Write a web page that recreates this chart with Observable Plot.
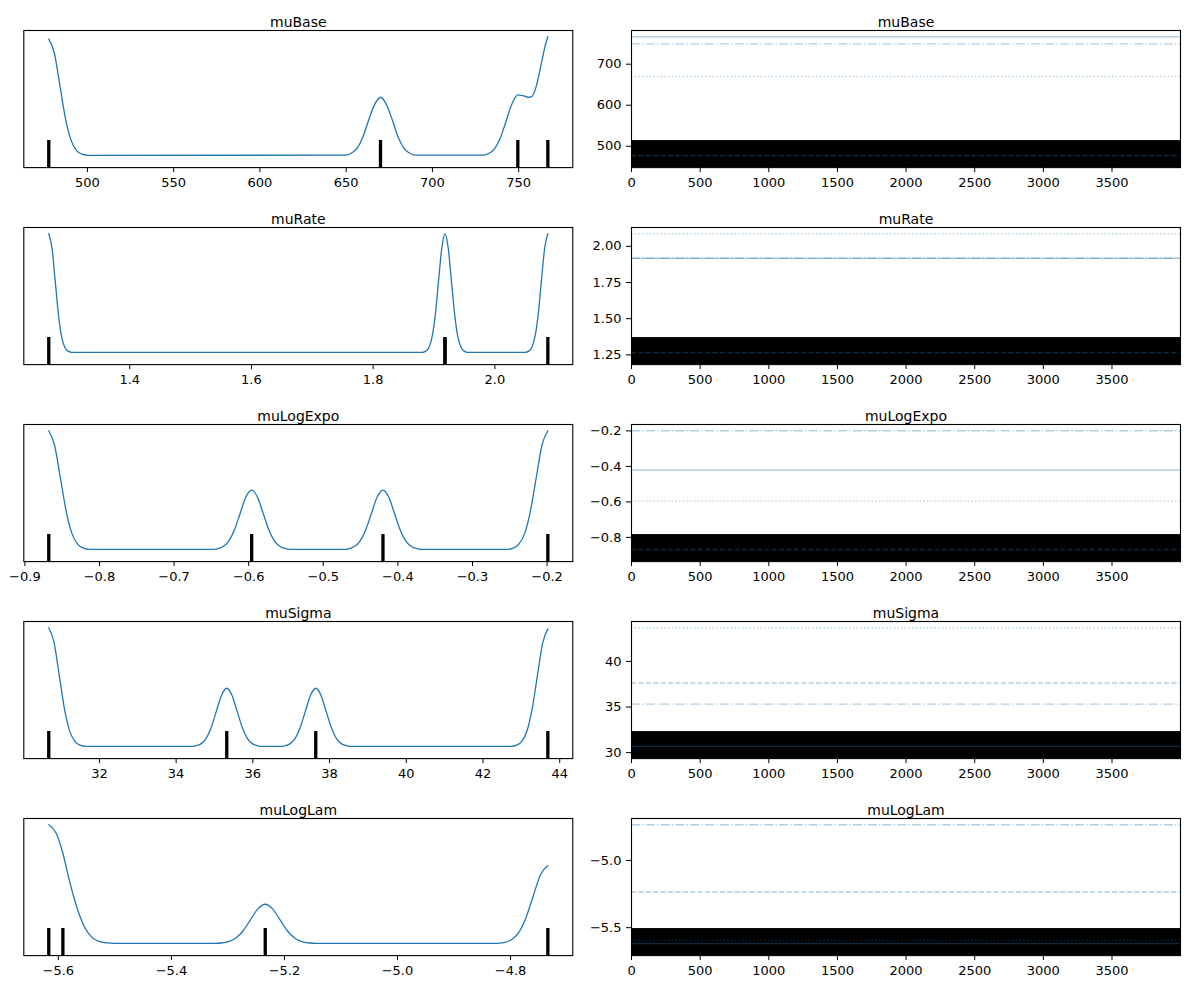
<!DOCTYPE html>
<html><head><meta charset="utf-8">
<script src="https://cdn.jsdelivr.net/npm/d3@7"></script>
<script src="https://cdn.jsdelivr.net/npm/@observablehq/plot@0.6"></script>
<style>
body{margin:0;background:#fff;}
#fig{position:relative;width:1189px;height:989px;background:#fff;font-family:"DejaVu Sans",sans-serif;}
#fig .cell{position:absolute;}
#fig svg{background:transparent;overflow:visible;}
</style></head><body><div id="fig"></div>
<script>
// ---- data ----
const varNames = ["muBase", "muRate", "muLogExpo", "muSigma", "muLogLam"];

// chain values (chain 0..3), each chain stuck at one value
const chains_muBase = [766.9, 477.6, 669.9, 749.5];
const chains_muRate = [1.918, 1.267, 2.087, 1.918];
const chains_muLogExpo = [-0.420, -0.868, -0.596, -0.199];
const chains_muSigma = [30.68, 37.64, 43.69, 35.32];
const chains_muLogLam = [-5.617, -5.234, -5.592, -4.734];

// draws
const drawRange = [0, 3999];
const drawTicks = [0, 500, 1000, 1500, 2000, 2500, 3000, 3500];

// KDE curves: [value, relative density]
const kde_muBase = [[477.6,0.98],[480.8,0.865],[484.0,0.594],[487.2,0.318],[490.4,0.133],[493.6,0.043],[496.8,0.011],[500.5,0.001],[650.0,0.002],
 [653.4,0.022],[656.6,0.066],[659.8,0.159],[663.0,0.297],[666.6,0.432],[669.9,0.49],[673.2,0.432],[676.8,0.297],[680.0,0.159],[683.2,0.066],[686.4,0.022],[689.8,0.002],
 [729.5,0.002],[732.9,0.018],[736.1,0.058],[739.3,0.145],[742.5,0.28],[745.7,0.42],[749.5,0.51],[752.5,0.503],[755.5,0.49],[757.5,0.495],[759.5,0.55],[761.5,0.66],[763.5,0.8],[765.3,0.92],[766.9,1.0]];
const kde_muRate = [[1.267,1.0],[1.2723,0.88],[1.2775,0.607],[1.2828,0.325],[1.288,0.135],[1.2933,0.044],[1.2985,0.011],[1.305,0.001],
 [1.881,0.001],[1.8865,0.011],[1.8918,0.044],[1.897,0.135],[1.9023,0.325],[1.9075,0.607],[1.9128,0.88],[1.918,1.0],[1.9233,0.88],[1.9285,0.607],[1.9338,0.325],[1.939,0.135],[1.9443,0.044],[1.9495,0.011],[1.955,0.001],
 [2.05,0.001],[2.0555,0.011],[2.0608,0.044],[2.066,0.135],[2.0713,0.325],[2.0765,0.607],[2.0818,0.88],[2.087,1.0]];
const kde_muLogExpo = [[-0.868,1.0],[-0.8603,0.88],[-0.8525,0.607],[-0.8448,0.325],[-0.837,0.135],[-0.8293,0.044],[-0.8215,0.011],[-0.814,0.001],
 [-0.65,0.001],[-0.6425,0.0055],[-0.6348,0.022],[-0.627,0.068],[-0.6193,0.162],[-0.6115,0.303],[-0.6038,0.441],[-0.596,0.5],[-0.5883,0.441],[-0.5805,0.303],[-0.5728,0.162],[-0.565,0.068],[-0.5573,0.022],[-0.5495,0.0055],[-0.542,0.001],
 [-0.474,0.001],[-0.4665,0.0055],[-0.4588,0.022],[-0.451,0.068],[-0.4433,0.162],[-0.4355,0.303],[-0.4278,0.441],[-0.420,0.5],[-0.4123,0.441],[-0.4045,0.303],[-0.3968,0.162],[-0.389,0.068],[-0.3813,0.022],[-0.3735,0.0055],[-0.366,0.001],
 [-0.253,0.001],[-0.2455,0.011],[-0.2378,0.044],[-0.23,0.135],[-0.2223,0.325],[-0.2145,0.607],[-0.2068,0.88],[-0.199,1.0]];
const kde_muSigma = [[30.68,1.0],[30.815,0.88],[30.95,0.607],[31.085,0.325],[31.22,0.135],[31.355,0.044],[31.49,0.011],[31.65,0.001],
 [34.4,0.001],[34.51,0.0054],[34.645,0.0215],[34.78,0.066],[34.915,0.159],[35.05,0.297],[35.185,0.432],[35.32,0.49],[35.455,0.432],[35.59,0.297],[35.725,0.159],[35.86,0.066],[35.995,0.0215],[36.13,0.0054],[36.24,0.001],
 [36.72,0.001],[36.83,0.0054],[36.965,0.0215],[37.1,0.066],[37.235,0.159],[37.37,0.297],[37.505,0.432],[37.64,0.49],[37.775,0.432],[37.91,0.297],[38.045,0.159],[38.18,0.066],[38.315,0.0215],[38.45,0.0054],[38.56,0.001],
 [42.72,0.001],[42.88,0.011],[43.015,0.044],[43.15,0.134],[43.285,0.322],[43.42,0.6],[43.555,0.87],[43.69,0.99]];
const kde_muLogLam = [[-5.617,1.0],[-5.604,0.93],[-5.592,0.76],[-5.58,0.52],[-5.567,0.3],[-5.554,0.14],[-5.541,0.053],[-5.528,0.017],[-5.515,0.005],[-5.5,0.001],
 [-5.325,0.001],[-5.312,0.0037],[-5.299,0.0145],[-5.286,0.045],[-5.273,0.107],[-5.26,0.2],[-5.247,0.291],[-5.234,0.33],[-5.221,0.291],[-5.208,0.2],[-5.195,0.107],[-5.182,0.045],[-5.169,0.0145],[-5.156,0.0037],[-5.143,0.001],
 [-4.825,0.001],[-4.812,0.007],[-4.799,0.029],[-4.786,0.089],[-4.773,0.213],[-4.76,0.398],[-4.747,0.579],[-4.734,0.656]];

// tick labels
const kdeTicks_muBase = [500, 550, 600, 650, 700, 750];
const kdeTicks_muRate = [1.4, 1.6, 1.8, 2.0];
const kdeTicks_muLogExpo = [-0.9, -0.8, -0.7, -0.6, -0.5, -0.4, -0.3, -0.2];
const kdeTicks_muSigma = [32, 34, 36, 38, 40, 42, 44];
const kdeTicks_muLogLam = [-5.6, -5.4, -5.2, -5.0, -4.8];
const traceTicks_muBase = [500, 600, 700];
const traceTicks_muRate = [1.25, 1.50, 1.75, 2.00];
const traceTicks_muLogExpo = [-0.8, -0.6, -0.4, -0.2];
const traceTicks_muSigma = [30, 35, 40];
const traceTicks_muLogLam = [-5.5, -5.0];

// ---- assembly ----
const panels = [
  {name: "muBase", chains: chains_muBase, kde: kde_muBase, kt: kdeTicks_muBase, kf: "d", tt: traceTicks_muBase, tf: "d"},
  {name: "muRate", chains: chains_muRate, kde: kde_muRate, kt: kdeTicks_muRate, kf: ".1f", tt: traceTicks_muRate, tf: ".2f"},
  {name: "muLogExpo", chains: chains_muLogExpo, kde: kde_muLogExpo, kt: kdeTicks_muLogExpo, kf: ".1f", tt: traceTicks_muLogExpo, tf: ".1f"},
  {name: "muSigma", chains: chains_muSigma, kde: kde_muSigma, kt: kdeTicks_muSigma, kf: "d", tt: traceTicks_muSigma, tf: "d"},
  {name: "muLogLam", chains: chains_muLogLam, kde: kde_muLogLam, kt: kdeTicks_muLogLam, kf: ".1f", tt: traceTicks_muLogLam, tf: ".1f"}
];

const C0 = "#1f77b4";
const chainDash = [null, "5.2,2.2", "1.4,2.3", "9,2.2,1.4,2.2"];
const frameW = 549, frameH = 137.1, rowPitch = 197.1, firstTop = 29.6;
const mTop = 25, mBottom = 32;
const leftML = 23.3, leftMR = 10;
const rightML = 45, rightMR = 9, rightFrameX = 630.7;
const markerHalf = 20.8;
const style = {fontFamily: '"DejaVu Sans", sans-serif', fontSize: "13px", color: "black", background: "transparent", overflow: "visible"};

// matplotlib-like limits: 5% margins, then markers at bottom -> limits widen again
function twoStep(lo, hi) {
  const r = hi - lo;
  const lo0 = lo - 0.05 * r;
  const r2 = hi - lo0;
  return {lo0, domain: [lo0 - 0.05 * r2, hi + 0.05 * r2]};
}

const fig = document.getElementById("fig");
function place(node, left, top) {
  const d = document.createElement("div");
  d.className = "cell";
  d.style.left = left + "px";
  d.style.top = top + "px";
  d.appendChild(node);
  fig.appendChild(d);
}

panels.forEach((p, i) => {
  const top = firstTop + i * rowPitch - mTop;
  const cmin = d3.min(p.chains), cmax = d3.max(p.chains);
  const r = cmax - cmin;
  const xDomain = [cmin - 0.05 * r, cmax + 0.05 * r];
  const dmax = d3.max(p.kde, d => d[1]);
  const ly = twoStep(0, dmax);

  const left = Plot.plot({
    width: leftML + frameW + leftMR,
    height: mTop + frameH + mBottom,
    marginLeft: leftML, marginRight: leftMR, marginTop: mTop, marginBottom: mBottom,
    style,
    x: {domain: xDomain, ticks: p.kt, tickFormat: d3.format(p.kf), tickSize: 5, tickPadding: 5, label: null},
    y: {domain: ly.domain, axis: null},
    marks: [
      Plot.line(p.kde, {x: d => d[0], y: d => d[1], stroke: C0, strokeWidth: 1.3, curve: "monotone-x"}),
      Plot.ruleX(p.chains, {x: d => d, y1: ly.lo0, y2: ly.lo0, insetTop: -markerHalf, insetBottom: -markerHalf, stroke: "black", strokeWidth: 3.3, clip: true}),
      Plot.frame({stroke: "black", strokeWidth: 1.1}),
      Plot.text([p.name], {text: d => d, frameAnchor: "top", dy: -13.4, fontSize: 14, fill: "black"})
    ]
  });
  place(left, 0, top);

  const ty = twoStep(cmin, cmax);
  const ruleMarks = p.chains.map((v, c) =>
    Plot.ruleY([v], {y: d => d, stroke: C0, strokeOpacity: 0.35, strokeWidth: 1.4, strokeDasharray: chainDash[c] || undefined}));
  const right = Plot.plot({
    width: rightML + frameW + rightMR,
    height: mTop + frameH + mBottom,
    marginLeft: rightML, marginRight: rightMR, marginTop: mTop, marginBottom: mBottom,
    style,
    x: {domain: drawRange, ticks: drawTicks, tickFormat: d3.format("d"), tickSize: 5, tickPadding: 5, label: null},
    y: {domain: ty.domain, ticks: p.tt, tickFormat: d3.format(p.tf), tickSize: 5, tickPadding: 5, label: null},
    marks: [
      Plot.rect([drawRange], {x1: d => d[0], x2: d => d[1], y1: ty.lo0, y2: ty.lo0, insetTop: -markerHalf, insetBottom: -markerHalf, fill: "black", clip: true}),
      ...ruleMarks,
      Plot.frame({stroke: "black", strokeWidth: 1.1}),
      Plot.text([p.name], {text: d => d, frameAnchor: "top", dy: -13.4, fontSize: 14, fill: "black"})
    ]
  });
  place(right, rightFrameX - rightML, top);
});
</script>
</body></html>
